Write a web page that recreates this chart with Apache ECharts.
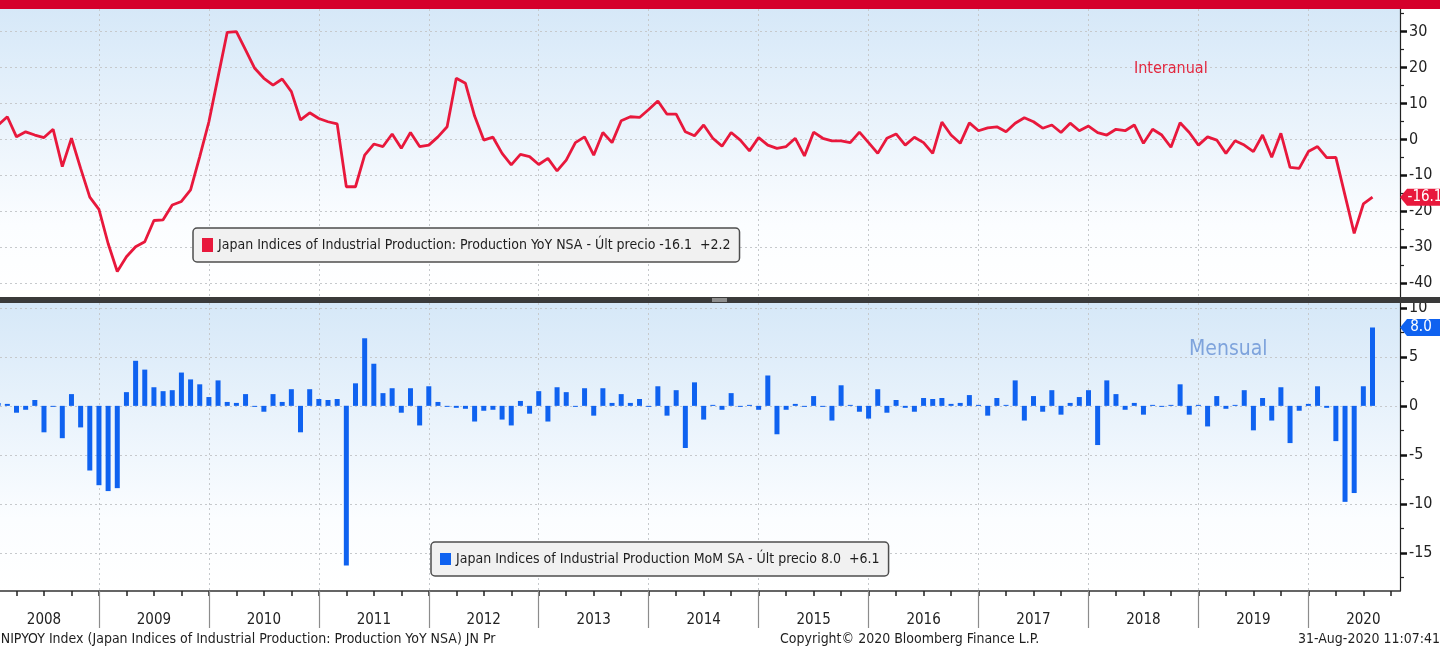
<!DOCTYPE html>
<html>
<head>
<meta charset="utf-8">
<title>Japan Industrial Production</title>
<script src="https://cdn.jsdelivr.net/npm/echarts@6/dist/echarts.min.js"></script>
<style>
  html, body { margin: 0; padding: 0; background: #fff; }
  #chart { width: 1440px; height: 646px; }
</style>
</head>
<body>
<div id="chart"></div>
<script>
// years on the bottom axis
var YEARS = ["2008", "2009", "2010", "2011", "2012", "2013", "2014", "2015", "2016", "2017", "2018", "2019", "2020"];

// Production YoY NSA, monthly from Jan 2008 to Jul 2020
var YOY = [
  4.0, 6.3, 0.7, 2.1, 1.2, 0.5, 2.8, -7.6, 0.3, -8.1, -16.1, -19.5,
  -29.0, -36.8, -32.7, -29.9, -28.5, -22.6, -22.4, -18.3, -17.3, -14.1, -4.8, 4.9,
  17.4, 29.8, 30.0, 24.9, 19.8, 17.0, 15.1, 16.8, 13.3, 5.4, 7.4, 5.8,
  4.9, 4.3, -13.2, -13.2, -4.4, -1.3, -2.0, 1.5, -2.5, 1.9, -2.0, -1.6,
  0.7, 3.5, 17.0, 15.6, 6.5, -0.2, 0.6, -3.9, -7.1, -4.2, -4.8, -7.0,
  -5.3, -8.8, -5.8, -0.9, 0.7, -4.4, 1.9, -0.9, 5.2, 6.3, 6.1, 8.3,
  10.7, 7.0, 7.0, 2.1, 1.0, 4.0, 0.3, -1.9, 1.9, -0.2, -3.2, 0.5,
  -1.6, -2.5, -2.0, 0.3, -4.6, 2.0, 0.3, -0.4, -0.4, -0.9, 2.0, -0.9,
  -3.9, 0.3, 1.5, -1.6, 0.6, -0.9, -3.9, 4.8, 1.2, -1.1, 4.6, 2.4,
  3.2, 3.5, 2.1, 4.5, 6.0, 4.9, 3.1, 4.0, 1.9, 4.5, 2.4, 3.7,
  1.9, 1.2, 2.8, 2.4, 4.0, -1.1, 2.8, 1.2, -2.2, 4.6, 1.9, -1.6,
  0.7, -0.2, -3.9, -0.4, -1.6, -3.4, 1.2, -5.0, 1.7, -7.8, -8.1, -3.4,
  -2.0, -5.1, -5.0, -15.6, -26.2, -18.0, -16.1
];

// Production MoM SA, same months
var MOM = [
  0.3, 0.2, -0.7, -0.4, 0.6, -2.7, -0.1, -3.3, 1.2, -2.2, -6.6, -8.1,
  -8.7, -8.4, 1.4, 4.6, 3.7, 1.9, 1.5, 1.6, 3.4, 2.7, 2.2, 0.9,
  2.6, 0.4, 0.3, 1.2, -0.1, -0.6, 1.2, 0.4, 1.7, -2.7, 1.7, 0.7,
  0.6, 0.7, -16.3, 2.3, 6.9, 4.3, 1.3, 1.8, -0.7, 1.8, -2.0, 2.0,
  0.4, -0.1, -0.2, -0.3, -1.6, -0.5, -0.4, -1.4, -2.0, 0.5, -0.8, 1.5,
  -1.6, 1.9, 1.4, -0.1, 1.8, -1.0, 1.8, 0.3, 1.2, 0.3, 0.7, -0.1,
  2.0, -1.0, 1.6, -4.3, 2.4, -1.4, 0.1, -0.4, 1.3, -0.1, 0.1, -0.4,
  3.1, -2.9, -0.4, 0.2, -0.1, 1.0, -0.1, -1.5, 2.1, 0.1, -0.6, -1.3,
  1.7, -0.7, 0.6, -0.2, -0.6, 0.8, 0.7, 0.8, 0.2, 0.3, 1.1, 0.1,
  -1.0, 0.8, 0.1, 2.6, -1.5, 1.0, -0.6, 1.6, -0.9, 0.3, 0.9, 1.6,
  -4.0, 2.6, 1.2, -0.4, 0.3, -0.9, 0.1, -0.1, 0.1, 2.2, -0.9, 0.1,
  -2.1, 1.0, -0.3, 0.1, 1.6, -2.5, 0.8, -1.5, 1.9, -3.8, -0.5, 0.2,
  2.0, -0.2, -3.6, -9.8, -8.9, 2.0, 8.0
];

var YOY_TICKS = [-40, -30, -20, -10, 0, 10, 20, 30];
var YOY_MINOR = [-35, -25, -15, -5, 5, 15, 25, 35];
var MOM_TICKS = [-15, -10, -5, 0, 5, 10];
var MOM_MINOR = [-17.5, -12.5, -7.5, -2.5, 2.5, 7.5];

var YOY_CHANGE = "+2.2";
var MOM_CHANGE = "+6.1";

var FONT = '"Liberation Sans Narrow", "DejaVu Sans Condensed", sans-serif';
var RED = "#e8183c";
var BLUE = "#0f62f0";

// x is months since Jan 2008, a month is plotted at its end
var XMIN = 1.2, XMAX = 154;
var yearEdges = [], yearMids = [], quarters = [];
YEARS.forEach(function (y, k) {
  if (k > 0) yearEdges.push(12 * k);
  yearMids.push(12 * k + 6);
});
for (var q = 3; q < XMAX; q += 3) quarters.push(q);

var yoyData = YOY.map(function (v, i) { return [i + 1, v]; });
var momData = MOM.map(function (v, i) { return [i + 1, v]; });
var lastYoy = YOY[YOY.length - 1];
var lastMom = MOM[MOM.length - 1];

var NAME_YOY = "Japan Indices of Industrial Production: Production YoY NSA - Últ precio " + lastYoy.toFixed(1) + "  " + YOY_CHANGE;
var NAME_MOM = "Japan Indices of Industrial Production MoM SA - Últ precio " + lastMom.toFixed(1) + "  " + MOM_CHANGE;

var bg = {
  type: "linear", x: 0, y: 0, x2: 0, y2: 1,
  colorStops: [{ offset: 0, color: "#d6e8f8" }, { offset: 0.75, color: "#fbfdff" }, { offset: 1, color: "#ffffff" }]
};
var dotted = { color: "#c6c9cc", type: [2, 3], width: 1 };
var tagPath = "path://M0,8 L7,0 L48,0 L48,16 L7,16 Z";

var chart = echarts.init(document.getElementById("chart"));
chart.setOption({
  animation: false,
  backgroundColor: "#ffffff",
  textStyle: { fontFamily: FONT },
  grid: [
    { left: 0, top: 9, width: 1400, height: 288, show: true, backgroundColor: bg, borderWidth: 0, containLabel: false, outerBoundsMode: "none" },
    { left: 0, top: 303, width: 1400, height: 288, show: true, backgroundColor: bg, borderWidth: 0, containLabel: false, outerBoundsMode: "none" }
  ],
  legend: [
    {
      data: [{ name: NAME_YOY, icon: "rect", itemStyle: { color: RED } }],
      left: 193, top: 228,
      padding: [10, 9, 10, 9],
      itemWidth: 11, itemHeight: 14, itemGap: 5,
      lineStyle: { opacity: 0 },
      backgroundColor: "#f1f1f1", borderColor: "#4d4d4d", borderWidth: 1.5, borderRadius: 4,
      textStyle: { fontFamily: FONT, fontSize: 14, color: "#1e1e1e" },
      selectedMode: false
    },
    {
      data: [{ name: NAME_MOM, icon: "rect", itemStyle: { color: BLUE } }],
      left: 431, top: 542,
      padding: [10, 9, 10, 9],
      itemWidth: 11, itemHeight: 12, itemGap: 5,
      backgroundColor: "#f1f1f1", borderColor: "#4d4d4d", borderWidth: 1.5, borderRadius: 4,
      textStyle: { fontFamily: FONT, fontSize: 14, color: "#1e1e1e" },
      selectedMode: false
    }
  ],
  xAxis: [
    {
      gridIndex: 0, type: "value", min: XMIN, max: XMAX, position: "bottom",
      axisLine: { show: false, onZero: false }, axisLabel: { show: false },
      axisTick: { show: false, customValues: yearEdges },
      splitLine: { show: true, lineStyle: dotted }
    },
    {
      gridIndex: 1, type: "value", min: XMIN, max: XMAX, position: "bottom",
      axisLine: { show: true, onZero: false, lineStyle: { color: "#333", width: 1.5 } },
      axisTick: { show: true, customValues: quarters, length: 5, lineStyle: { color: "#222", width: 1.5 } },
      axisLabel: {
        show: true, customValues: yearMids, margin: 22,
        fontSize: 15, color: "#222", fontFamily: FONT,
        formatter: function (v) { return YEARS[Math.round((v - 6) / 12)]; }
      },
      splitLine: { show: false }
    },
    {
      gridIndex: 1, type: "value", min: XMIN, max: XMAX, position: "bottom",
      axisLine: { show: false, onZero: false }, axisLabel: { show: false },
      axisTick: { show: true, customValues: yearEdges, length: 37, lineStyle: { color: "#8c8c8c", width: 1.2 } },
      splitLine: { show: true, lineStyle: dotted }
    }
  ],
  yAxis: [
    {
      gridIndex: 0, type: "value", position: "right", min: -43.9, max: 36.3,
      axisLine: { show: true, onZero: false, lineStyle: { color: "#222", width: 1.2 } },
      axisTick: { show: true, customValues: YOY_TICKS, length: 7, lineStyle: { color: "#111", width: 2.5 } },
      axisLabel: { customValues: YOY_TICKS, margin: 9, fontSize: 16, color: "#222", fontFamily: FONT },
      splitLine: { show: true, lineStyle: dotted }
    },
    {
      gridIndex: 1, type: "value", position: "right", min: -18.9, max: 10.5,
      axisLine: { show: true, onZero: false, lineStyle: { color: "#222", width: 1.2 } },
      axisTick: { show: true, customValues: MOM_TICKS, length: 7, lineStyle: { color: "#111", width: 2.5 } },
      axisLabel: { customValues: MOM_TICKS, margin: 9, fontSize: 16, color: "#222", fontFamily: FONT },
      splitLine: { show: true, lineStyle: dotted }
    },
    {
      gridIndex: 0, type: "value", position: "right", min: -43.9, max: 36.3,
      axisLine: { show: false, onZero: false }, axisLabel: { show: false }, splitLine: { show: false },
      axisTick: { show: true, customValues: YOY_MINOR, length: 4, lineStyle: { color: "#222", width: 1.2 } }
    },
    {
      gridIndex: 1, type: "value", position: "right", min: -18.9, max: 10.5,
      axisLine: { show: false, onZero: false }, axisLabel: { show: false }, splitLine: { show: false },
      axisTick: { show: true, customValues: MOM_MINOR, length: 4, lineStyle: { color: "#222", width: 1.2 } }
    }
  ],
  series: [
    {
      name: NAME_YOY, type: "line", xAxisIndex: 0, yAxisIndex: 0,
      data: yoyData, showSymbol: false, symbol: "none", clip: true,
      lineStyle: { color: RED, width: 2.8 }, itemStyle: { color: RED },
      markPoint: {
        symbol: tagPath, symbolSize: [48, 17], symbolOffset: [24, 0],
        itemStyle: { color: RED },
        label: { show: true, position: "inside", offset: [1, 0], color: "#fff", fontSize: 15, fontFamily: FONT, formatter: "{c}" },
        data: [{ coord: [XMAX, lastYoy], value: lastYoy.toFixed(1) }]
      }
    },
    {
      name: NAME_MOM, type: "bar", xAxisIndex: 1, yAxisIndex: 1,
      data: momData, barWidth: 5,
      itemStyle: { color: BLUE },
      markPoint: {
        symbol: tagPath, symbolSize: [48, 17], symbolOffset: [24, 0],
        itemStyle: { color: BLUE },
        label: { show: true, position: "inside", offset: [-3, 0], color: "#fff", fontSize: 15, fontFamily: FONT, formatter: "{c}" },
        data: [{ coord: [XMAX, lastMom], value: lastMom.toFixed(1) }]
      }
    }
  ],
  graphic: [
    { type: "rect", z: 100, shape: { x: 0, y: 0, width: 1440, height: 9 }, style: { fill: "#d5002b" } },
    { type: "rect", z: 100, shape: { x: 0, y: 297, width: 1440, height: 6 }, style: { fill: "#3a3a3a" } },
    { type: "rect", z: 101, shape: { x: 712, y: 298, width: 15, height: 4 }, style: { fill: "#8e8e8e" } },
    { type: "text", z: 100, left: 1134, top: 61, style: { text: "Interanual", fill: "#e2283f", font: "16px " + FONT } },
    { type: "text", z: 100, left: 1189, top: 339, style: { text: "Mensual", fill: "#7ea3dc", font: "21px " + FONT } },
    { type: "text", z: 100, x: -3, y: 632, style: { text: "JNIPYOY Index (Japan Indices of Industrial Production: Production YoY NSA) JN Pr", fill: "#1e1e1e", font: "14px " + FONT } },
    { type: "text", z: 100, left: 780, top: 632, style: { text: "Copyright© 2020 Bloomberg Finance L.P.", fill: "#1e1e1e", font: "14px " + FONT } },
    { type: "text", z: 100, right: 0, top: 632, style: { text: "31-Aug-2020 11:07:41", fill: "#1e1e1e", font: "14px " + FONT } }
  ]
});
</script>
</body>
</html>
